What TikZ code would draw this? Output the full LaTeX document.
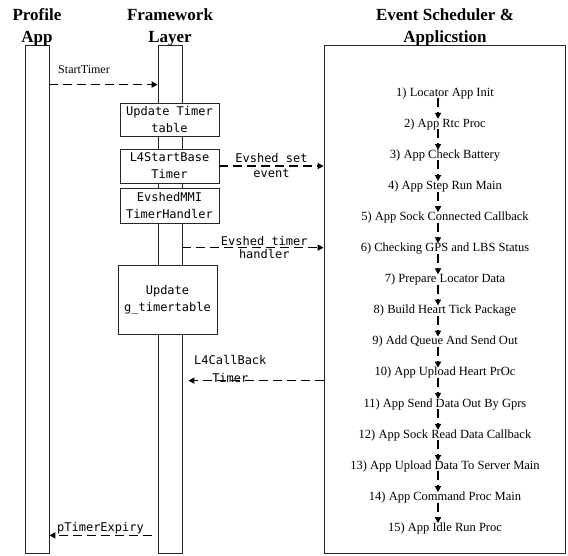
\documentclass[tikz,border=0pt]{standalone}
\usepackage{fontspec}
\setmainfont{Liberation Serif}
\newfontfamily\codefont{DejaVu Sans Mono}
\usepackage{tikz}
\usetikzlibrary{arrows.meta,positioning}
\tikzset{
  lifeline/.style={rectangle,draw=black!85,line width=0.8pt,
                   minimum width=24pt,minimum height=508pt,inner sep=0pt},
  headnode/.style={align=center,inner sep=0pt,
                   font=\fontsize{17}{22}\selectfont\bfseries},
  funcbox/.style={rectangle,draw=black!85,fill=white,line width=0.8pt,
                  align=center,minimum width=99pt,inner sep=0pt,
                  font=\codefont\fontsize{12}{17}\selectfont},
  stepnode/.style={inner sep=0pt,text height=8pt,text depth=2pt,
                   font=\fontsize{12.5}{15}\selectfont},
  msglbl/.style={inner sep=1pt,font=\codefont\fontsize{12}{18}\selectfont},
  dasharr/.style={-{Triangle[length=6pt,width=6pt]},
                  dash pattern=on 9pt off 5pt,line width=1.6pt}
}

\begin{document}
\begin{tikzpicture}[x=1pt,y=-1pt,node distance=20.7pt]
  \useasboundingbox (0,0) rectangle (568,555);

  % lifelines
  \node[lifeline] (app) at (37,299) {};
  \node[lifeline] (fw) at (170,299) {};
  \node[lifeline,minimum width=241pt] (sched) at (444.5,299) {};

  \node[headnode] (apptitle) at (37,27) {Profile\\App};
  \node[headnode] (fwtitle) at (170,27) {Framework\\Layer};
  \node[headnode] (schedtitle) at (445,27) {Event Scheduler \&\\Applicstion};

  % framework steps
  \node[funcbox,minimum height=33pt] (updtimer) at (169.5,119.5)
      {Update Timer\\table};
  \node[funcbox,minimum height=34pt] (l4start) at (169.5,166)
      {L4StartBase\\Timer};
  \node[funcbox,minimum height=35pt] (mmihandler) at (169.5,205.5)
      {EvshedMMI\\TimerHandler};
  \node[funcbox,minimum height=69pt] (updtable) at (167.5,299.5)
      {Update\\g\_timertable};

  % scheduler sequence
  \node[stepnode] (s1) at (445,93) {1) Locator App Init};
  \node[stepnode,below=of s1] (s2) {2) App Rtc Proc};
  \node[stepnode,below=of s2] (s3) {3) App Check Battery};
  \node[stepnode,below=of s3] (s4) {4) App Step Run Main};
  \node[stepnode,below=of s4] (s5) {5) App Sock Connected Callback};
  \node[stepnode,below=of s5] (s6) {6) Checking GPS and LBS Status};
  \node[stepnode,below=of s6] (s7) {7) Prepare Locator Data};
  \node[stepnode,below=of s7] (s8) {8) Build Heart Tick Package};
  \node[stepnode,below=of s8] (s9) {9) Add Queue And Send Out};
  \node[stepnode,below=of s9] (s10) {10) App Upload Heart PrOc};
  \node[stepnode,below=of s10] (s11) {11) App Send Data Out By Gprs};
  \node[stepnode,below=of s11] (s12) {12) App Sock Read Data Callback};
  \node[stepnode,below=of s12] (s13) {13) App Upload Data To Server Main};
  \node[stepnode,below=of s13] (s14) {14) App Command Proc Main};
  \node[stepnode,below=of s14] (s15) {15) App Idle Run Proc};

  \coordinate (axis) at (438,0);
  \draw[dasharr] (s1.south -| axis) -- (s2.north -| axis);
  \draw[dasharr] (s2.south -| axis) -- (s3.north -| axis);
  \draw[dasharr] (s3.south -| axis) -- (s4.north -| axis);
  \draw[dasharr] (s4.south -| axis) -- (s5.north -| axis);
  \draw[dasharr] (s5.south -| axis) -- (s6.north -| axis);
  \draw[dasharr] (s6.south -| axis) -- (s7.north -| axis);
  \draw[dasharr] (s7.south -| axis) -- (s8.north -| axis);
  \draw[dasharr] (s8.south -| axis) -- (s9.north -| axis);
  \draw[dasharr] (s9.south -| axis) -- (s10.north -| axis);
  \draw[dasharr] (s10.south -| axis) -- (s11.north -| axis);
  \draw[dasharr] (s11.south -| axis) -- (s12.north -| axis);
  \draw[dasharr] (s12.south -| axis) -- (s13.north -| axis);
  \draw[dasharr] (s13.south -| axis) -- (s14.north -| axis);
  \draw[dasharr] (s14.south -| axis) -- (s15.north -| axis);

  % messages
  \draw[dasharr] ([yshift=-40pt]app.north east) -- ([yshift=-40pt]fw.north west)
      node[pos=0.32, above=10pt, inner sep=0pt, font=\fontsize{12}{14}\selectfont]
      {StartTimer};
  \draw[dasharr] (l4start.east) -- (l4start.east -| sched.west)
      node[midway, above=2pt, msglbl] {Evshed set}
      node[midway, below=1pt, msglbl] {event};
  \draw[dasharr] ([yshift=-203pt]fw.north east) -- ([yshift=-203pt]sched.north west)
      node[pos=0.58, above, msglbl] {Evshed timer}
      node[pos=0.58, below, msglbl] {handler};
  \draw[dasharr] ([yshift=-336pt]sched.north west) -- ([xshift=6pt,yshift=-336pt]fw.north east)
      node[pos=0.69, yshift=12pt, msglbl, align=center] {L4CallBack\\Timer};
  \draw[dasharr] ([xshift=-6pt,yshift=18pt]fw.south west) -- ([yshift=18pt]app.south east)
      node[midway, above, msglbl] {pTimerExpiry};
\end{tikzpicture}
\end{document}
